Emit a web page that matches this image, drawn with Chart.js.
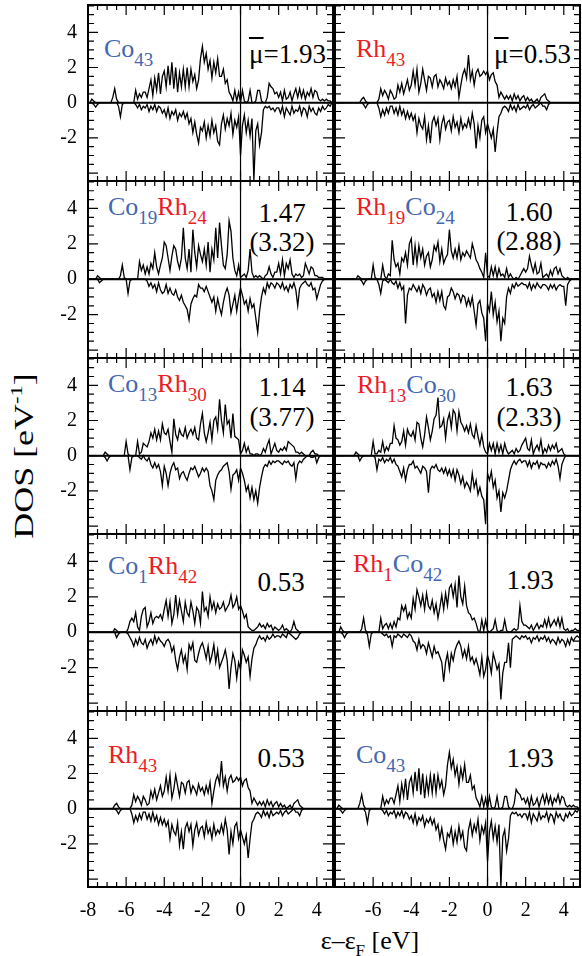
<!DOCTYPE html>
<html>
<head>
<meta charset="utf-8">
<script src="https://cdn.jsdelivr.net/npm/chart.js@4.4.1/dist/chart.umd.min.js"></script>
<style>
  html, body { margin: 0; padding: 0; background: #fff; }
  body { position: relative; width: 582px; height: 956px; overflow: hidden;
         font-family: "Liberation Serif", "Times New Roman", serif; color: #000; }
  canvas { position: absolute; }
  .lab { position: absolute; line-height: 1; white-space: nowrap; font-size: 26px; }
  .val { position: absolute; line-height: 1; white-space: nowrap; font-size: 27px; }
  .c { transform: translateX(-50%); }
  .s { font-size: 19px; vertical-align: -9px; }
  .co { color: #4466b3; }
  .rh { color: #ec1c24; }
  .ov { text-decoration: overline; }
</style>
</head>
<body>

<!-- panel labels -->
<div class="lab co" style="left:104px;top:36px">Co<span class="s">43</span></div>
<div class="val" style="right:256px;top:41px"><span class="ov">μ</span>=1.93</div>
<div class="lab rh" style="left:356px;top:36px">Rh<span class="s">43</span></div>
<div class="val" style="right:11px;top:41px"><span class="ov">μ</span>=0.53</div>

<div class="lab" style="left:108px;top:194px"><span class="co">Co<span class="s">19</span></span><span class="rh">Rh<span class="s">24</span></span></div>
<div class="val c" style="left:282px;top:200px">1.47</div>
<div class="val c" style="left:282px;top:229px">(3.32)</div>
<div class="lab" style="left:356px;top:194px"><span class="rh">Rh<span class="s">19</span></span><span class="co">Co<span class="s">24</span></span></div>
<div class="val c" style="left:529px;top:199px">1.60</div>
<div class="val c" style="left:529px;top:228px">(2.88)</div>

<div class="lab" style="left:108px;top:371px"><span class="co">Co<span class="s">13</span></span><span class="rh">Rh<span class="s">30</span></span></div>
<div class="val c" style="left:282px;top:374px">1.14</div>
<div class="val c" style="left:282px;top:404px">(3.77)</div>
<div class="lab" style="left:357px;top:372px"><span class="rh">Rh<span class="s">13</span></span><span class="co">Co<span class="s">30</span></span></div>
<div class="val c" style="left:529px;top:374px">1.63</div>
<div class="val c" style="left:529px;top:404px">(2.33)</div>

<div class="lab" style="left:108px;top:553px"><span class="co">Co<span class="s">1</span></span><span class="rh">Rh<span class="s">42</span></span></div>
<div class="val c" style="left:281px;top:569px">0.53</div>
<div class="lab" style="left:353px;top:551px"><span class="rh">Rh<span class="s">1</span></span><span class="co">Co<span class="s">42</span></span></div>
<div class="val c" style="left:530px;top:567px">1.93</div>

<div class="lab rh" style="left:108px;top:742px">Rh<span class="s">43</span></div>
<div class="val c" style="left:281px;top:745px">0.53</div>
<div class="lab co" style="left:356px;top:742px">Co<span class="s">43</span></div>
<div class="val c" style="left:530px;top:745px">1.93</div>

<!-- axis titles -->
<div class="lab" style="left:23px;top:456px;font-size:27px;transform:translate(-50%,-50%) rotate(-90deg) scaleX(1.33)">DOS [eV<span style="font-size:17px;vertical-align:11px">-1</span>]</div>
<div class="lab" style="left:370px;top:928px;transform:translateX(-50%)">ε–ε<span style="font-size:17px;vertical-align:-7px">F</span> [eV]</div>

<script>
// energy grid (eV), -8.0 ... 4.9 in 0.1 steps
const energies = Array.from({ length: 130 }, (_, i) => Math.round((-8 + 0.1 * i) * 10) / 10);

const xTicksLeft = [-8, -6, -4, -2, 0, 2, 4];
const xTicksRight = [-6, -4, -2, 0, 2, 4];
const yTicks = [-2, 0, 2, 4];

// DOS values, one line per eV (-8..-7.1, -7..-6.1, ... 4..4.9)
const co43Up = [
  0,0,0.2,0.1,0,0,0,0,0,0,
  0,0,0,0.3,0.8,0.2,0,0,0,0,
  0,0,0,0,0,0.7,0.2,0.5,0.3,0.6,
  0.6,0.3,0.8,1.3,0.4,1.4,0.7,1.7,0.5,1.5,
  1.8,0.9,2.1,1.0,2.3,0.8,2.0,0.6,1.7,0.9,
  1.9,0.9,2.0,0.9,1.9,1.2,1.6,0.8,1.3,2.5,
  3.2,2.3,2.8,1.9,2.4,1.4,2.3,1.7,2.5,1.5,
  1.5,1.9,1.1,1.3,0.6,0.4,0.1,0.7,0.1,0.6,
  0,0.7,0.1,0,0.1,0.7,0,0,0.1,0.7,
  0.7,0.1,0,0,0.3,1.1,0.9,0.8,0.5,0.6,
  0.3,0.6,0.1,0.7,0.2,0.3,0.6,0.1,0.5,0.8,
  0.3,0.8,0.3,0.7,0.2,0.6,0.4,0.8,0.3,0.7,
  0.6,0.2,0.1,0.2,0.1,0.2,0.1,0.1,0,0
];
const co43Down = [
  0,0,0,-0.1,-0.25,-0.1,0,0,0,0,
  0,0,0,0,0,0,-0.2,-0.8,-0.1,0,
  0,0,0,0,0,-0.1,-0.3,-0.1,-0.4,-0.2,
  -0.3,-0.1,-0.5,-0.2,-0.4,-0.1,-0.5,-0.2,-0.3,-0.6,
  -0.4,-0.8,-0.3,-0.9,-0.5,-0.7,-0.4,-1.0,-0.6,-0.8,
  -0.5,-0.9,-0.6,-1.2,-0.9,-1.7,-1.1,-1.8,-2.3,-1.4,
  -1.6,-1.1,-2.0,-1.3,-1.9,-1.0,-1.7,-1.3,-2.2,-2.4,
  -1.2,-0.7,-1.5,-0.9,-1.3,-0.6,-1.8,-1.0,-1.4,-0.8,
  -3.0,-1.3,-0.7,-1.7,-1.0,-1.9,-0.9,-4.4,-1.6,-1.2,
  -2.4,-1.7,-0.4,-0.2,-0.3,-0.2,-0.4,-0.3,-0.5,-0.3,
  -0.3,-0.6,-0.2,-0.8,-0.3,-0.5,-0.7,-0.2,-0.6,-0.4,
  -0.5,-0.2,-0.7,-0.3,-0.4,-0.8,-0.2,-0.5,-0.3,-0.6,
  -0.7,-0.3,-0.5,-0.2,-0.4,-0.3,-0.1,-0.2,0,0
];

const rh43Up = [
  0,0,0,0,0,0,0,0,0,0,
  0,0,0,0,0.2,0.3,0.1,0,0,0,
  0,0,0,0.2,0.8,0.4,0.7,0.5,0.2,0.7,
  0.5,0.2,0.3,1.0,0.6,1.1,0.5,0.9,1.3,0.7,
  1.0,1.8,1.0,1.9,0.6,1.1,1.9,1.3,0.7,1.5,
  1.4,0.9,1.5,1.6,0.9,1.3,1.1,0.8,1.4,1.0,
  1.2,0.8,1.3,0.9,1.5,0.3,1.0,1.6,1.9,1.4,
  2.7,1.3,1.8,1.0,1.7,1.9,1.5,1.6,1.8,1.6,
  1.8,1.3,1.6,1.7,1.2,1.0,0.3,0.6,0.4,0.2,
  0.4,0.2,0.4,0.1,0.5,0.2,0.4,0.1,0.3,0.4,
  0.1,0.3,0.1,0.2,0,0.1,0.2,0,0.3,0.4,
  0.5,0.2,0.1,0,0,0,0,0,0,0,
  0,0,0,0,0,0,0,0,0,0
];
const rh43Down = [
  0,0,0,0,0,0,0,0,0,0,
  0,0,0,0,0,-0.1,-0.3,-0.1,0,0,
  0,0,0,-0.3,-0.8,-0.4,-0.7,-0.3,-0.6,-0.2,
  -0.2,-0.6,-0.3,-0.7,-0.2,-0.7,-0.4,-0.9,-0.5,-0.9,
  -0.6,-1.0,-0.7,-1.7,-0.9,-1.3,-1.5,-0.8,-2.1,-1.3,
  -2.3,-1.1,-0.8,-1.3,-0.9,-2.1,-1.2,-0.8,-1.5,-1.1,
  -1.0,-1.6,-0.8,-1.4,-1.1,-1.7,-0.9,-1.5,-1.2,-1.4,
  -0.9,-1.4,-0.6,-1.2,-2.6,-1.3,-2.0,-1.0,-0.8,-1.7,
  -1.2,-1.6,-2.0,-1.5,-2.8,-1.7,-0.8,-0.6,-0.3,-0.2,
  -0.3,-0.5,-0.1,-0.4,-0.2,-0.5,-0.1,-0.4,-0.3,-0.2,
  -0.3,-0.1,-0.4,-0.2,-0.1,-0.3,-0.2,-0.1,0,-0.2,
  -0.2,-0.4,-0.1,0,0,0,0,0,0,0,
  0,0,0,0,0,0,0,0,0,0
];

const co19rh24Up = [
  0,0,0,0,0,0.2,0.1,0,0,0,
  0,0,0,0,0,0,0,0.2,0.8,0.1,
  0,0,0,0,0,0,0,1.0,0.5,0.8,
  0.3,0.7,0.3,0.9,0.6,1.5,0.7,0.3,0.8,1.2,
  2.1,1.9,1.2,0.5,1.3,1.9,1.7,1.0,0.6,1.2,
  2.9,1.2,0.6,1.7,0.4,2.8,1.5,0.7,1.9,1.4,
  1.0,1.7,0.8,2.1,0.4,1.7,1.1,2.9,1.2,3.2,
  1.9,0.8,0.6,1.4,3.3,2.7,1.2,0.5,0.2,0.8,
  0.1,0.2,0.3,0.1,0.5,1.7,0.4,0.1,0.2,0.1,
  0.2,0.1,0,0.2,0.3,0.7,0.3,0.1,0.4,0.4,
  0.9,0.3,1.1,0.2,0.9,0.6,1.1,0.3,0.1,0.3,
  0.2,0.3,0.1,0.2,0.9,0.6,0.3,0.7,0.6,0.2,
  0.2,0.1,0.1,0.1,0,0,0,0,0,0
];
const co19rh24Down = [
  0,0,0,0,0,0,-0.2,-0.1,0,0,
  0,0,0,0,0,0,0,0,0,0,
  0,-0.8,-0.1,0,0,0,0,0,0,0,
  0,-0.1,-0.4,-0.2,-0.5,-0.3,-0.7,-0.2,-0.6,-0.8,
  -0.7,-0.3,-0.8,-0.5,-0.8,-0.9,-0.6,-1.0,-1.2,-0.9,
  -1.3,-1.5,-1.7,-2.3,-1.4,-1.1,-0.9,-1.0,-0.3,-0.5,
  -0.5,-0.7,-0.4,-0.7,-1.0,-1.3,-1.0,-1.8,-1.1,-1.6,
  -2.0,-1.3,-0.8,-0.5,-0.9,-1.9,-1.4,-0.9,-1.8,-1.1,
  -0.5,-0.9,-1.4,-1.2,-1.8,-1.1,-1.6,-1.4,-2.2,-3.0,
  -1.8,-1.0,-0.5,-0.8,-0.2,-0.5,-0.2,-0.3,-0.5,-0.2,
  -0.3,-0.5,-0.2,-0.6,-0.4,-0.7,-0.3,-0.5,-0.2,-0.6,
  -1.5,-0.5,-0.3,-0.2,-0.1,-0.3,-0.4,-0.2,-0.6,-0.5,
  -1.1,-0.7,-0.3,-0.1,0,0,0,0,0,0
];

const rh19co24Up = [
  0,0,0,0,0,0,0,0,0,0,
  0,0,0.2,0.1,0,0,0,0,0,0,
  0.8,0.1,0,0,0,0.8,0.2,0,0.3,0.2,
  2.2,1.1,0.7,0.9,0.3,1.2,1.0,1.5,0.8,2.0,
  2.3,0.8,1.9,0.9,1.9,1.2,1.7,0.8,1.3,1.5,
  0.7,1.1,1.9,1.6,2.1,1.0,1.7,0.9,1.2,1.4,
  2.8,1.6,1.2,1.7,1.2,1.9,1.1,1.5,1.3,1.6,
  1.4,1.2,2.0,1.6,1.1,0.9,0.6,0.4,0.1,1.5,
  0.2,0.1,0.7,0.2,0.7,0.1,0.6,0.2,0.3,0.1,
  0.6,0.1,0.3,0.1,0,0.1,0,0.2,0.4,0.6,
  0.4,0.6,1.3,0.8,0.4,0.9,0.3,0.4,0.9,0.1,
  0.2,0.3,0.1,0.5,0.2,0.6,0.7,0.3,0.6,0.2,
  0.1,0,0.1,0,0,0,0,0,0,0
];
const rh19co24Down = [
  0,0,0,0,0,0,0,0,0,0,
  0,0,0,0,-0.1,-0.3,-0.1,0,0,0,
  0,0,0,-0.3,-0.8,-0.1,0,-0.1,-0.2,0,
  -0.2,-0.3,-0.1,-0.5,-0.2,-0.6,-0.4,-2.5,-0.9,-0.5,
  -0.6,-0.3,-0.5,-0.7,-0.4,-0.8,-0.3,-0.5,-0.9,-0.6,
  -0.5,-1.0,-0.8,-1.3,-0.7,-1.2,-0.7,-1.5,-1.7,-1.0,
  -0.9,-0.5,-0.7,-1.1,-0.8,-0.9,-1.3,-0.9,-1.0,-1.5,
  -1.1,-1.5,-1.0,-1.8,-2.6,-1.4,-1.2,-1.9,-2.2,-3.5,
  -1.4,-1.8,-0.7,-2.0,-1.3,-2.4,-1.8,-3.5,-2.2,-2.5,
  -1.0,-0.5,-0.8,-0.3,-0.5,-0.2,-0.4,-0.3,-0.2,-0.3,
  -0.3,-0.5,-0.2,-0.6,-0.3,-0.5,-0.2,-0.4,-0.5,-0.3,
  -0.3,-0.4,-0.6,-0.3,-0.5,-0.3,-0.6,-0.4,-0.3,-0.4,
  -0.4,-1.5,-0.3,-0.1,0,0,0,0,0,0
];

const co13rh30Up = [
  0,0,0,0,0,0,0,0,0,0.2,
  0.1,0,0,0,0,0,0,0,0,0,
  0.8,0.1,0,0,0,0,0.8,0.1,0.2,0.7,
  0.6,0.5,0.8,1.3,1.0,1.5,0.9,1.4,0.9,1.8,
  1.3,1.2,1.5,0.8,0.2,2.1,1.2,0.9,1.5,1.2,
  1.1,1.6,1.0,1.3,1.5,1.2,1.6,1.0,0.9,1.8,
  2.4,1.3,0.8,1.3,1.9,0.9,2.0,2.2,1.5,3.2,
  2.0,1.3,2.9,1.8,2.0,1.0,2.4,1.1,1.0,0.9,
  0.1,0.3,0.7,0.2,0.5,0.1,0.1,0,0.1,0.1,
  0,0.1,0.4,0.2,0.6,0.9,0.1,0.4,0.7,0.3,
  0.2,0.4,0.3,0.5,0.3,0.8,0.7,0.6,0.5,0.2,
  0.2,0.1,0.2,0.1,0,0,0,0.2,0.3,0.1,
  0.1,0,0,0,0,0,0,0,0,0
];
const co13rh30Down = [
  0,0,0,0,0,0,0,0,0,-0.1,
  -0.3,-0.1,0,0,0,0,0,0,0,0,
  0,0,-0.8,-0.1,0,0,0,-0.1,-0.2,0,
  -0.2,-0.3,-0.1,-0.5,-0.7,-0.4,-0.7,-0.5,-0.9,-1.7,
  -0.6,-1.0,-1.7,-1.0,-0.6,-0.4,-0.8,-0.7,-1.3,-1.0,
  -0.9,-1.2,-1.4,-1.0,-0.7,-0.8,-0.6,-0.9,-1.2,-1.0,
  -0.7,-0.9,-0.7,-0.9,-1.7,-2.0,-2.5,-1.4,-1.1,-0.9,
  -0.8,-0.6,-0.5,-0.4,-0.9,-1.9,-1.1,-1.0,-0.8,-1.4,
  -0.7,-1.0,-1.4,-2.0,-1.7,-2.4,-1.8,-2.5,-2.0,-2.7,
  -1.8,-1.2,-0.7,-0.5,-0.6,-0.3,-0.5,-0.3,-0.4,-0.3,
  -0.3,-0.4,-0.5,-0.3,-0.4,-0.3,-0.5,-0.6,-0.4,-1.3,
  -0.5,-0.3,-0.4,-0.2,-0.1,0,0,-0.1,-0.1,0,
  -0.4,-0.1,0,0,0,0,0,0,0,0
];

const rh13co30Up = [
  0,0,0,0,0,0,0,0,0,0,
  0,0.2,0.1,0,0,0,0,0,0,0,
  0.8,0.1,0.1,0.3,0.2,0.8,0.2,0.5,0.3,0.7,
  0.7,1.7,1.0,0.9,0.6,0.8,1.4,0.6,1.5,1.2,
  1.1,1.4,0.9,1.9,1.8,1.0,0.5,1.2,2.2,1.6,
  0.9,1.4,2.1,2.3,3.3,1.6,1.7,2.1,1.0,2.0,
  2.4,1.6,2.6,2.4,1.4,2.5,1.9,1.7,1.4,1.7,
  1.3,1.8,1.2,1.0,1.7,1.1,0.6,1.2,0.5,0.2,
  0.1,0.7,0.3,0.7,0.1,0.7,0.2,0.6,0.1,0.7,
  0.3,0.1,0.2,0.3,0.1,0.4,0.2,0.3,0.6,0.8,
  1.0,0.4,0.3,0.9,0.1,0.4,0.6,0.3,0.9,0.1,
  0.4,0.2,0.6,0.3,0.6,0.4,0.7,0.2,0.3,0.4,
  0.1,0,0,0,0,0,0,0,0,0
];
const rh13co30Down = [
  0,0,0,0,0,0,0,0,0,0,
  0,0,0,-0.3,-0.1,0,0,0,0,0,
  0,-0.1,-0.8,-0.2,-0.3,-0.1,-0.4,-0.2,-0.3,-0.1,
  -0.4,-0.2,-0.5,-0.6,-0.9,-1.2,-0.7,-1.4,-0.8,-0.5,
  -0.5,-0.3,-0.7,-0.6,-0.8,-1.0,-0.6,-0.7,-0.9,-2.1,
  -0.8,-0.6,-0.7,-0.5,-0.8,-0.9,-0.7,-1.0,-0.7,-1.1,
  -0.8,-1.2,-0.8,-1.4,-0.8,-1.1,-1.6,-1.2,-1.8,-1.5,
  -1.7,-2.0,-1.0,-1.8,-1.4,-2.2,-1.8,-2.3,-2.5,-3.9,
  -1.0,-1.4,-0.9,-1.8,-1.4,-2.4,-2.0,-3.2,-2.1,-2.4,
  -2.0,-1.4,-0.8,-0.5,-0.3,-0.5,-0.3,-0.2,-0.4,-0.3,
  -0.3,-0.6,-0.3,-0.7,-0.4,-0.5,-0.3,-0.7,-0.4,-0.5,
  -0.5,-0.7,-0.4,-0.6,-0.3,-0.5,-0.2,-0.6,-1.3,-0.5,
  -0.2,0,0,0,0,0,0,0,0,0
];

const co1rh42Up = [
  0,0,0,0,0,0,0,0,0,0,
  0,0,0,0,0.2,0.1,0,0,0,0,
  0,0.2,0.6,0.8,0.6,1.1,0.3,0.1,0.9,1.3,
  1.4,0.3,0.6,1.1,0.5,0.8,0.9,0.8,1.0,0.7,
  1.3,1.8,0.9,1.7,0.5,1.0,2.1,1.0,1.8,1.2,
  0.6,1.7,1.1,0.9,1.7,1.2,0.5,1.4,1.2,0.5,
  2.3,1.2,1.4,0.9,2.0,1.3,1.7,1.1,1.6,1.3,
  1.4,1.7,1.2,1.4,1.6,2.1,1.4,1.6,2.0,1.3,
  1.5,1.2,0.8,1.0,0.3,0.2,0.1,0.1,0.2,0.3,
  0.5,0.3,0.4,0.2,0.5,0.3,0.4,0.1,0.3,0.2,
  0.1,0.2,0.4,0.1,0.2,0.1,0,0.2,0.6,0.2,
  0.1,0,0,0,0,0,0,0,0,0,
  0,0,0,0,0,0,0,0,0,0
];
const co1rh42Down = [
  0,0,0,0,0,0,0,0,0,0,
  0,0,0,0,0,-0.3,-0.1,0,0,0,
  0,-0.1,-0.3,-0.5,-0.8,-0.4,-0.7,-0.3,-0.6,-0.7,
  -0.4,-0.9,-0.6,-0.4,-0.7,-0.2,-0.6,-0.3,-0.5,-0.6,
  -0.8,-0.5,-0.4,-0.6,-1.1,-0.8,-1.6,-2.1,-1.4,-1.0,
  -1.7,-1.3,-2.1,-0.7,-1.0,-0.6,-1.6,-1.7,-1.2,-0.8,
  -0.6,-1.0,-1.5,-0.8,-1.7,-1.3,-0.7,-1.7,-1.0,-2.0,
  -1.7,-1.4,-1.0,-1.6,-3.2,-2.0,-1.2,-1.6,-2.6,-1.7,
  -2.1,-1.0,-1.3,-1.7,-1.4,-2.5,-1.5,-0.9,-0.7,-0.4,
  -0.2,-0.4,-0.3,-0.5,-0.2,-0.4,-0.3,-0.1,-0.3,-0.2,
  -0.2,-0.3,-0.1,-0.2,-0.3,0,-0.1,-0.2,-0.3,-0.4,
  -0.3,-0.1,0,0,0,0,0,0,0,0,
  0,0,0,0,0,0,0,0,0,0
];

const rh1co42Up = [
  0,0,0,0.3,0.1,0,0,0,0,0,
  0,0,0,0,0.2,0.8,0.1,0,0,0,
  0,0,0,0,0.8,0.2,0.4,0.5,0.2,0.5,
  0.2,0.6,0.3,0.8,0.7,1.5,1.2,1.5,0.8,1.1,
  0.8,1.9,1.3,2.4,2.0,1.5,2.1,1.3,2.2,1.5,
  1.3,1.8,1.1,1.6,0.8,1.4,2.1,1.3,2.2,1.5,
  2.5,2.7,2.0,2.7,1.4,3.2,2.0,1.6,2.6,1.5,
  1.1,1.0,0.7,0.8,0.5,0.1,0,0.7,0.1,0.7,
  0.1,0,0.1,0.2,0.7,0.1,0,0.1,0.1,0.7,
  0.1,0,0,0.1,0.2,0.1,0.2,1.5,0.6,0.4,
  0.4,0.3,0.2,0.4,0.1,0.3,0.5,0.2,0.4,0.3,
  0.7,0.3,0.8,0.3,0.5,0.7,0.4,0.8,0.3,0.8,
  0.2,0.1,0.2,0,0.1,0.1,0.2,0.1,0.1,0
];
const rh1co42Down = [
  0,0,0,0,-0.1,-0.3,-0.1,0,0,0,
  0,0,0,0,0,0,0,-0.1,-0.8,-0.1,
  0,0,0,0,0,-0.1,-0.2,-0.1,-0.3,-0.2,
  -0.8,-0.2,-0.3,-0.1,-0.2,-0.3,-0.1,-0.2,-0.3,-0.1,
  -0.2,-0.5,-0.6,-1.0,-0.4,-0.9,-0.7,-0.8,-1.2,-0.6,
  -1.0,-1.4,-0.8,-1.2,-1.1,-1.4,-1.7,-2.8,-1.7,-1.2,
  -2.1,-1.2,-1.6,-1.0,-0.7,-0.5,-0.8,-1.4,-1.0,-1.5,
  -0.8,-1.6,-1.4,-1.8,-1.5,-1.9,-2.4,-1.4,-2.5,-2.1,
  -1.3,-1.7,-2.3,-1.2,-1.6,-2.1,-1.8,-3.8,-2.3,-1.7,
  -1.7,-0.6,-2.0,-0.4,-0.3,-0.2,-0.3,-0.4,-0.2,-0.3,
  -0.2,-0.4,-0.3,-0.6,-0.3,-0.4,-0.2,-0.5,-0.3,-0.4,
  -0.2,-0.5,-0.3,-0.6,-0.4,-0.5,-0.7,-0.3,-0.6,-0.4,
  -0.5,-0.8,-0.4,-0.7,-0.3,-0.5,-0.3,-0.2,-0.3,-0.1
];

// grid of panels: which spin-up / spin-down curves sit where
const panels = [
  { row: 0, col: 0, up: co43Up, down: co43Down },
  { row: 0, col: 1, up: rh43Up, down: rh43Down },
  { row: 1, col: 0, up: co19rh24Up, down: co19rh24Down },
  { row: 1, col: 1, up: rh19co24Up, down: rh19co24Down },
  { row: 2, col: 0, up: co13rh30Up, down: co13rh30Down },
  { row: 2, col: 1, up: rh13co30Up, down: rh13co30Down },
  { row: 3, col: 0, up: co1rh42Up, down: co1rh42Down },
  { row: 3, col: 1, up: rh1co42Up, down: rh1co42Down },
  { row: 4, col: 0, up: rh43Up, down: rh43Down },
  { row: 4, col: 1, up: co43Up, down: co43Down },
];

const X_MIN = -8, X_MAX = 4.85;
const Y_MIN = -4.45, Y_MAX = 5.55;
const rowTops = [5, 181, 358, 534, 711];
const rowHeights = [176, 177, 176, 177, 176];
const colLefts = [88, 335];
const colWidths = [245, 245];
const Y_AXIS_W = 48;
const X_AXIS_H = 36;
const fontFamily = '"Liberation Serif", "Times New Roman", serif';

const toPoints = (values) => values.map((v, i) => ({ x: energies[i], y: v }));

const panelFrame = {
  id: "panelFrame",
  beforeDatasetsDraw(chart) {
    const { ctx, chartArea: a, scales: { x, y } } = chart;
    ctx.save();
    ctx.strokeStyle = "#000";
    ctx.lineWidth = 2;
    const y0 = y.getPixelForValue(0);
    ctx.beginPath();
    ctx.moveTo(a.left, y0);
    ctx.lineTo(a.right, y0);
    ctx.stroke();
    ctx.lineWidth = 1.2;
    const x0 = x.getPixelForValue(0);
    ctx.beginPath();
    ctx.moveTo(x0, a.top);
    ctx.lineTo(x0, a.bottom);
    ctx.stroke();
    ctx.restore();
  },
  afterDatasetsDraw(chart) {
    const { ctx, chartArea: a, scales: { x, y } } = chart;
    ctx.save();
    ctx.strokeStyle = "#000";
    ctx.lineWidth = 1.2;
    ctx.beginPath();
    for (let k = Math.ceil(x.min * 2); k <= Math.floor(x.max * 2); k++) {
      const px = x.getPixelForValue(k / 2);
      const len = k % 4 === 0 ? 10 : 5;
      ctx.moveTo(px, a.bottom);
      ctx.lineTo(px, a.bottom - len);
      ctx.moveTo(px, a.top);
      ctx.lineTo(px, a.top + len);
    }
    for (let k = Math.ceil(y.min * 2); k <= Math.floor(y.max * 2); k++) {
      const py = y.getPixelForValue(k / 2);
      const len = k % 4 === 0 ? 10 : 6;
      ctx.moveTo(a.left, py);
      ctx.lineTo(a.left + len, py);
      ctx.moveTo(a.right, py);
      ctx.lineTo(a.right - len, py);
    }
    ctx.stroke();
    ctx.lineWidth = 2;
    ctx.strokeRect(a.left, a.top, a.right - a.left, a.bottom - a.top);
    ctx.restore();
  },
};

panels.forEach((p) => {
  const bottomRow = p.row === 4;
  const leftCol = p.col === 0;
  const canvasLeft = leftCol ? colLefts[0] - Y_AXIS_W : colLefts[1] - 2;
  const canvasTop = rowTops[p.row] - 2;
  const width = colLefts[p.col] - canvasLeft + colWidths[p.col] + 2;
  const height = 2 + rowHeights[p.row] + (bottomRow ? X_AXIS_H : 2);

  const canvas = document.createElement("canvas");
  canvas.width = width;
  canvas.height = height;
  canvas.style.left = canvasLeft + "px";
  canvas.style.top = canvasTop + "px";
  canvas.style.width = width + "px";
  canvas.style.height = height + "px";
  document.body.appendChild(canvas);

  const xTicks = leftCol ? xTicksLeft : xTicksRight;

  new Chart(canvas, {
    type: "line",
    data: {
      datasets: [
        { data: toPoints(p.up), borderColor: "#000", borderWidth: 1.3, pointRadius: 0, tension: 0 },
        { data: toPoints(p.down), borderColor: "#000", borderWidth: 1.3, pointRadius: 0, tension: 0 },
      ],
    },
    options: {
      responsive: false,
      animation: false,
      devicePixelRatio: 1,
      layout: {
        padding: { top: 2, right: 2, bottom: bottomRow ? 0 : 2, left: leftCol ? 0 : 2 },
      },
      plugins: { legend: { display: false }, tooltip: { enabled: false } },
      scales: {
        x: {
          type: "linear",
          min: X_MIN,
          max: X_MAX,
          display: bottomRow,
          grid: { display: false, drawTicks: false },
          border: { display: false },
          afterBuildTicks: (axis) => {
            axis.ticks = xTicks.map((v) => ({ value: v }));
          },
          afterFit: (axis) => {
            axis.height = bottomRow ? X_AXIS_H : 0;
            axis.paddingLeft = 0;
            axis.paddingRight = 0;
          },
          ticks: {
            padding: 12,
            color: "#000",
            maxRotation: 0,
            autoSkip: false,
            font: { family: fontFamily, size: 20 },
            callback: (v) => String(v),
          },
        },
        y: {
          type: "linear",
          min: Y_MIN,
          max: Y_MAX,
          display: leftCol,
          grid: { display: false, drawTicks: false },
          border: { display: false },
          afterBuildTicks: (axis) => {
            axis.ticks = yTicks.map((v) => ({ value: v }));
          },
          afterFit: (axis) => {
            axis.width = leftCol ? Y_AXIS_W : 0;
            axis.paddingTop = 0;
            axis.paddingBottom = 0;
          },
          ticks: {
            padding: 11,
            color: "#000",
            autoSkip: false,
            font: { family: fontFamily, size: 20 },
            callback: (v) => String(v),
          },
        },
      },
    },
    plugins: [panelFrame],
  });
});
</script>
</body>
</html>
